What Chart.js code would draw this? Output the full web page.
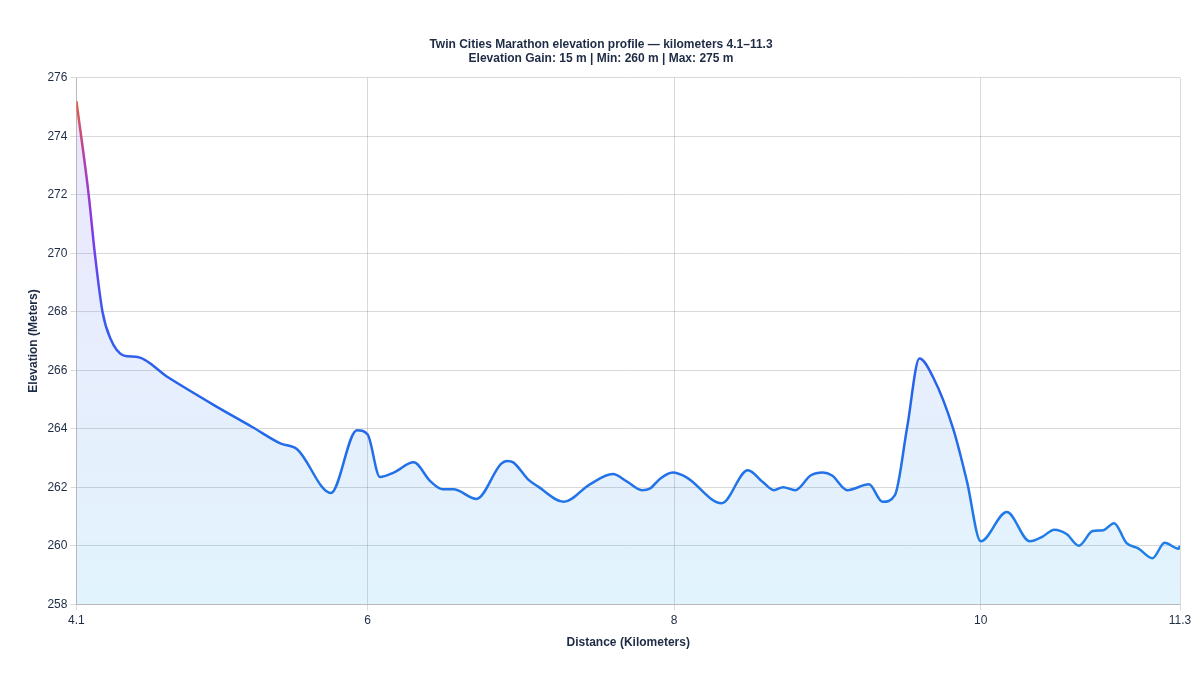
<!DOCTYPE html>
<html>
<head>
<meta charset="utf-8">
<title>Twin Cities Marathon elevation profile</title>
<script src="https://cdn.jsdelivr.net/npm/chart.js@4.4.1/dist/chart.umd.min.js"></script>
<style>
    html, body { margin: 0; padding: 0; background: #fff; }
    #wrap { width: 1200px; height: 675px; }
</style>
</head>
<body>
<div id="wrap"><canvas id="chart-elevation"></canvas></div>
<script>
// ── Data ────────────────────────────────────────────────────────────────────
var distanceKm = [
    4.10, 4.18, 4.22, 4.27, 4.32, 4.41, 4.50, 4.70, 5.00, 5.25,
    5.43, 5.54, 5.76, 5.93, 6.00, 6.08, 6.17, 6.30, 6.41, 6.49,
    6.56, 6.71, 6.87, 6.91, 6.95, 7.05, 7.11, 7.28, 7.45, 7.60,
    7.69, 7.79, 7.84, 7.91, 7.99, 8.08, 8.31, 8.48, 8.58, 8.65,
    8.71, 8.79, 8.89, 8.97, 9.03, 9.13, 9.27, 9.36, 9.44, 9.52,
    9.60, 9.69, 9.82, 9.91, 10.00, 10.17, 10.32, 10.40, 10.48, 10.56,
    10.64, 10.73, 10.80, 10.87, 10.95, 11.03, 11.12, 11.20, 11.29, 11.30
];
var elevationM = [
    275.2, 272.0, 270.0, 268.0, 267.1, 266.5, 266.45, 265.75, 264.8, 264.05,
    263.5, 263.3, 261.8, 263.95, 263.8, 262.35, 262.5, 262.85, 262.2, 261.93,
    261.93, 261.6, 262.8, 262.9, 262.85, 262.25, 262.03, 261.5, 262.1, 262.45,
    262.2, 261.9, 261.95, 262.3, 262.5, 262.34, 261.45, 262.58, 262.17, 261.9,
    262.0, 261.9, 262.4, 262.5, 262.4, 261.9, 262.1, 261.5, 261.73, 264.05,
    266.4, 265.75, 264.0, 262.2, 260.15, 261.15, 260.15, 260.3, 260.55, 260.4,
    260.0, 260.5, 260.53, 260.77, 260.1, 259.9, 259.57, 260.1, 259.9, 260.0
];
var xTicks = [4.1, 6, 8, 10, 11.3];
var yTicks = [258, 260, 262, 264, 266, 268, 270, 272, 274, 276];

var titleLines = [
    'Twin Cities Marathon elevation profile \u2014 kilometers 4.1\u201311.3',
    'Elevation Gain: 15 m | Min: 260 m | Max: 275 m'
];

var TEXT = '#1e2b45';
var GRID = 'rgba(0,0,0,0.15)';
var FONT = 'Liberation Sans, Arial, sans-serif';

// ── Gradient helpers ─────────────────────────────────────────────────────────
function lineGradient(ctx) {
    var area = ctx.chart.chartArea;
    if (!area) return '#2563eb';
    var g = ctx.chart.ctx.createLinearGradient(0, area.top, 0, area.bottom);
    g.addColorStop(0.03, '#ec6433');
    g.addColorStop(0.15, '#b440a8');
    g.addColorStop(0.30, '#7c3aed');
    g.addColorStop(0.45, '#3d5af0');
    g.addColorStop(0.60, '#2563eb');
    g.addColorStop(1.00, '#1e88e5');
    return g;
}

function fillGradient(ctx) {
    var area = ctx.chart.chartArea;
    if (!area) return 'rgba(59,130,246,.1)';
    var g = ctx.chart.ctx.createLinearGradient(0, area.top, 0, area.bottom);
    g.addColorStop(0, 'rgba(139,92,246,0.16)');
    g.addColorStop(0.5, 'rgba(90,130,240,0.14)');
    g.addColorStop(1, 'rgba(56,180,240,0.15)');
    return g;
}

function fixedTicks(values) {
    return function (axis) {
        axis.ticks = values.map(function (v) { return { value: v }; });
    };
}

// ── Chart ────────────────────────────────────────────────────────────────────
new Chart(document.getElementById('chart-elevation'), {
    type: 'line',
    data: {
        datasets: [{
            label: 'Elevation',
            data: distanceKm.map(function (d, i) { return { x: d, y: elevationM[i] }; }),
            borderColor: lineGradient,
            backgroundColor: fillGradient,
            borderWidth: 2.5,
            fill: 'start',
            pointRadius: 0,
            cubicInterpolationMode: 'monotone'
        }]
    },
    options: {
        responsive: true,
        maintainAspectRatio: false,
        animation: false,
        layout: { padding: { top: 37, right: 20, bottom: 21, left: 22 } },
        plugins: {
            legend: { display: false },
            tooltip: { enabled: false },
            title: {
                display: true,
                text: titleLines,
                color: TEXT,
                font: { family: FONT, size: 12, weight: 'bold', lineHeight: 1.2 },
                padding: { top: 0, bottom: 12 }
            }
        },
        scales: {
            x: {
                type: 'linear',
                min: 4.1,
                max: 11.3,
                afterBuildTicks: fixedTicks(xTicks),
                grid: { color: GRID, tickLength: 6 },
                border: { color: GRID },
                ticks: {
                    color: TEXT,
                    font: { family: FONT, size: 12 },
                    maxRotation: 0,
                    autoSkip: false,
                    callback: function (v) { return String(v); }
                },
                title: {
                    display: true,
                    text: 'Distance (Kilometers)',
                    color: TEXT,
                    font: { family: FONT, size: 12, weight: 'bold' },
                    padding: { top: 5 }
                }
            },
            y: {
                min: 258,
                max: 276,
                afterBuildTicks: fixedTicks(yTicks),
                grid: { color: GRID, tickLength: 6 },
                border: { color: GRID },
                ticks: {
                    color: TEXT,
                    font: { family: FONT, size: 12 }
                },
                title: {
                    display: true,
                    text: 'Elevation (Meters)',
                    color: TEXT,
                    font: { family: FONT, size: 12, weight: 'bold' }
                }
            }
        }
    }
});
</script>
</body>
</html>
